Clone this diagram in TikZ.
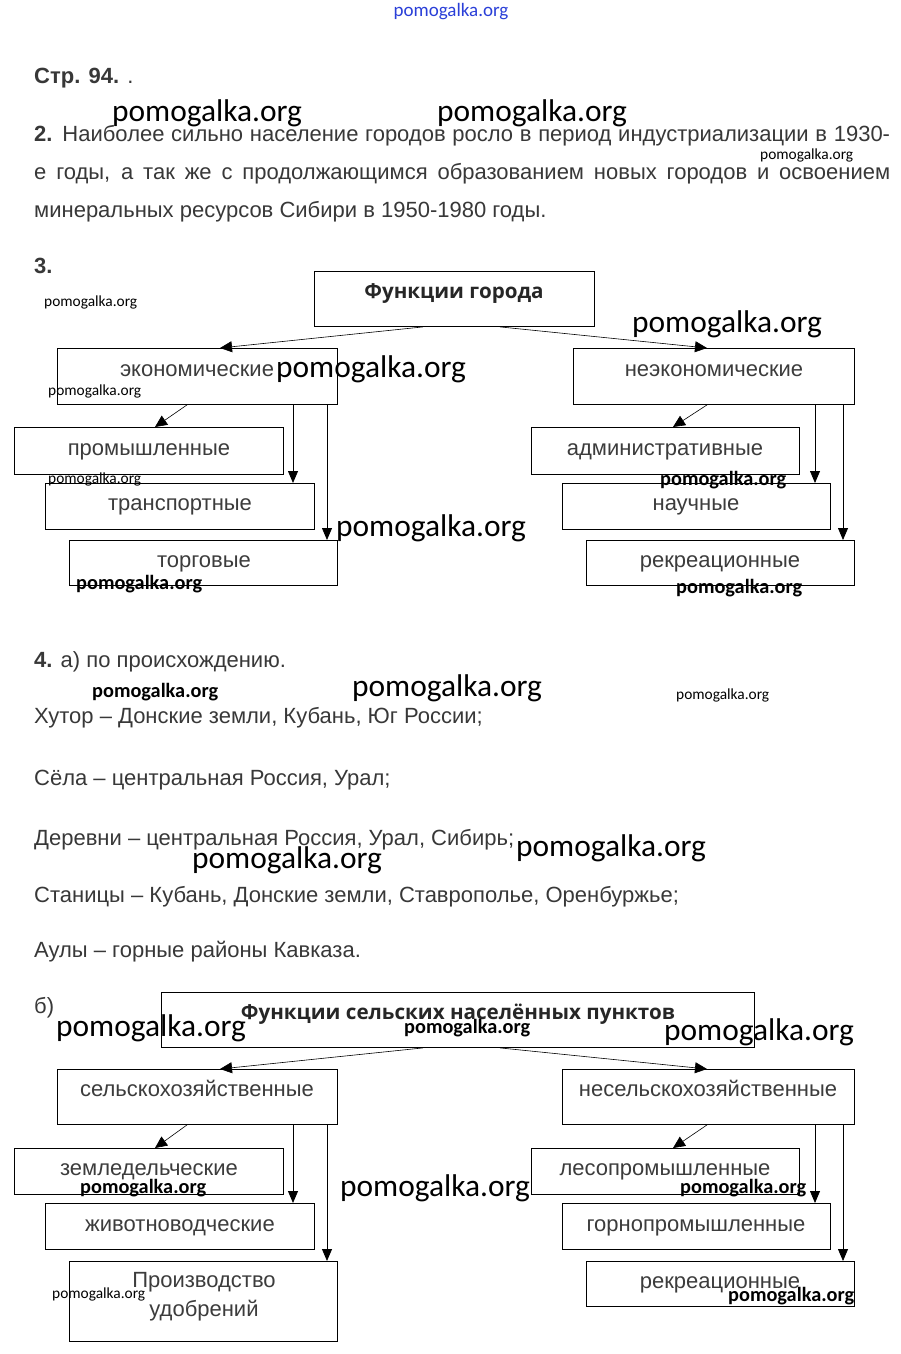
\documentclass[tikz,border=0pt]{standalone}
\usepackage{fontspec}
\setmainfont{Liberation Sans}
\newfontfamily\wmfont{Carlito}
\newfontfamily\ttlfont{Open Sans}
\usetikzlibrary{arrows.meta,calc}
\definecolor{bodyc}{HTML}{383838}
\definecolor{boxc}{HTML}{3C3C3C}
\definecolor{wmblue}{HTML}{2A3FD8}
\begin{document}
\begin{tikzpicture}[x=1pt,y=-1pt,
  body/.style={anchor=base west,inner sep=0pt,text=bodyc,font=\fontsize{22}{26}\selectfont},
  frame/.style={draw=black,line width=0.9pt,anchor=north west,inner sep=0pt},
  lbl/.style={anchor=base,inner sep=0pt,text=boxc,font=\fontsize{22}{29}\selectfont},
  ttl/.style={anchor=base,inner sep=0pt,text=black!85,font=\ttlfont\bfseries\fontsize{20.6}{24}\selectfont},
  wmL/.style={anchor=west,inner sep=0pt,font=\wmfont\fontsize{31.4}{32}\selectfont},
  wmS/.style={anchor=west,inner sep=0pt,font=\wmfont\fontsize{15.4}{16}\selectfont},
  wmB/.style={anchor=west,inner sep=0pt,font=\wmfont\bfseries\fontsize{20.3}{21}\selectfont},
  arr/.style={-{Triangle[length=12pt,width=10pt]},line width=0.8pt},
  thinarr/.style={-{Triangle[length=12pt,width=11pt]},line width=0.6pt}]
\useasboundingbox[fill=white] (0,0) rectangle (900,1354);

% header
\node[anchor=center,inner sep=0pt,text=wmblue,font=\wmfont\fontsize{19}{20}\selectfont] (wmtop) at (451,12) {pomogalka.org};
\node[body] (str) at (34,84) {\textbf{Стр. 94.} .};

% task 2
\node[body] (p1) at (34,141) {\makebox[856pt][s]{\textbf{2.} Наиболее сильно население городов росло в период индустриализации в 1930-}};
\node[body] (p2) at (34,179) {\makebox[856pt][s]{е годы, а так же с продолжающимся образованием новых городов и освоением}};
\node[body] (p3) at (34,217) {минеральных ресурсов Сибири в 1950-1980 годы.};

% task 3
\node[body] (n3) at (34,273) {\textbf{3.}};
\node[frame,minimum width=280pt,minimum height=55pt] (top1) at (314,271) {};
\node[frame,minimum width=280pt,minimum height=56pt] (eco) at (57,348) {};
\node[frame,minimum width=281pt,minimum height=56pt] (neco) at (573,348) {};
\node[frame,minimum width=269pt,minimum height=47pt] (prom) at (14,427) {};
\node[frame,minimum width=269pt,minimum height=46pt] (trans) at (45,483) {};
\node[frame,minimum width=268pt,minimum height=45pt] (torg) at (69,540) {};
\node[frame,minimum width=268pt,minimum height=47pt] (adm) at (531,427) {};
\node[frame,minimum width=268pt,minimum height=46pt] (nauch) at (562,483) {};
\node[frame,minimum width=268pt,minimum height=45pt] (rekr1) at (586,540) {};

\node[ttl] (ttop1) at (454,298) {Функции города};
\node[lbl] (teco) at (197,376) {экономические};
\node[lbl] (tneco) at (714,376) {неэкономические};
\node[lbl] (tprom) at (149,455) {промышленные};
\node[lbl] (ttrans) at (180,510) {транспортные};
\node[lbl] (ttorg) at (204,567) {торговые};
\node[lbl] (tadm) at (665,455) {административные};
\node[lbl] (tnauch) at (696,510) {научные};
\node[lbl] (trekr1) at (720,567) {рекреационные};

\coordinate (a1) at ($(top1.south west)+(109,0)$);
\coordinate (a2) at ($(top1.south west)+(186,0)$);
\coordinate (e1) at ($(eco.south west)+(130,0)$);
\coordinate (e2) at ($(eco.south west)+(236,0)$);
\coordinate (e3) at ($(eco.south west)+(270,0)$);
\coordinate (f1) at ($(neco.south west)+(134,0)$);
\coordinate (f2) at ($(neco.south west)+(242,0)$);
\coordinate (f3) at ($(neco.south west)+(270,0)$);
\draw[thinarr] (a1) -- ($(eco.north west)+(163,0)$);
\draw[thinarr] (a2) -- ($(neco.north west)+(134,0)$);
\draw[thinarr] (e1) -- ($(prom.north west)+(141,0)$);
\draw[arr] (e2) -- (e2 |- trans.north);
\draw[arr] (e3) -- (e3 |- torg.north);
\draw[thinarr] (f1) -- ($(adm.north west)+(142,0)$);
\draw[arr] (f2) -- (f2 |- nauch.north);
\draw[arr] (f3) -- (f3 |- rekr1.north);

% task 4
\node[body] (n4) at (34,667) {\textbf{4.} а) по происхождению.};
\node[body] (l1) at (34,723) {Хутор – Донские земли, Кубань, Юг России;};
\node[body] (l2) at (34,785) {Сёла – центральная Россия, Урал;};
\node[body] (l3) at (34,845) {Деревни – центральная Россия, Урал, Сибирь;};
\node[body] (l4) at (34,902) {Станицы – Кубань, Донские земли, Ставрополье, Оренбуржье;};
\node[body] (l5) at (34,957) {Аулы – горные районы Кавказа.};
\node[body] (nb) at (34,1013) {б)};

\node[frame,minimum width=593pt,minimum height=55pt] (top2) at (161,992) {};
\node[frame,minimum width=280pt,minimum height=55pt] (selx) at (57,1069) {};
\node[frame,minimum width=292pt,minimum height=55pt] (nesel) at (562,1069) {};
\node[frame,minimum width=269pt,minimum height=46pt] (zeml) at (14,1148) {};
\node[frame,minimum width=269pt,minimum height=46pt] (zhiv) at (45,1203) {};
\node[frame,minimum width=268pt,minimum height=80pt] (proiz) at (69,1261) {};
\node[frame,minimum width=268pt,minimum height=46pt] (les) at (531,1148) {};
\node[frame,minimum width=268pt,minimum height=46pt] (gorn) at (562,1203) {};
\node[frame,minimum width=268pt,minimum height=45pt] (rekr2) at (586,1261) {};

\node[ttl] (ttop2) at (458,1019) {Функции сельских населённых пунктов};
\node[lbl] (tselx) at (197,1096) {сельскохозяйственные};
\node[lbl] (tnesel) at (708,1096) {несельскохозяйственные};
\node[lbl] (tzeml) at (149,1175) {земледельческие};
\node[lbl] (tzhiv) at (180,1231) {животноводческие};
\node[lbl,anchor=center,align=center] (tproiz) at (204,1297) {Производство\\удобрений};
\node[lbl] (tles) at (665,1175) {лесопромышленные};
\node[lbl] (tgorn) at (696,1231) {горнопромышленные};
\node[lbl] (trekr2) at (720,1288) {рекреационные};

\coordinate (b1) at ($(top2.south west)+(262,0)$);
\coordinate (b2) at ($(top2.south west)+(339,0)$);
\coordinate (g1) at ($(selx.south west)+(130,0)$);
\coordinate (g2) at ($(selx.south west)+(236,0)$);
\coordinate (g3) at ($(selx.south west)+(270,0)$);
\coordinate (h1) at ($(nesel.south west)+(145,0)$);
\coordinate (h2) at ($(nesel.south west)+(253,0)$);
\coordinate (h3) at ($(nesel.south west)+(281,0)$);
\draw[thinarr] (b1) -- ($(selx.north west)+(163,0)$);
\draw[thinarr] (b2) -- ($(nesel.north west)+(145,0)$);
\draw[thinarr] (g1) -- ($(zeml.north west)+(141,0)$);
\draw[arr] (g2) -- (g2 |- zhiv.north);
\draw[arr] (g3) -- (g3 |- proiz.north);
\draw[thinarr] (h1) -- ($(les.north west)+(142,0)$);
\draw[arr] (h2) -- (h2 |- gorn.north);
\draw[arr] (h3) -- (h3 |- rekr2.north);

% watermarks
\node[wmL] (w1) at (112,113) {pomogalka.org};
\node[wmL] (w2) at (437,113) {pomogalka.org};
\node[wmS] (w3) at (760,155) {pomogalka.org};
\node[wmS] (w4) at (44,302) {pomogalka.org};
\node[wmL] (w5) at (632,324) {pomogalka.org};
\node[wmL] (w6) at (276,369) {pomogalka.org};
\node[wmS] (w7) at (48,391) {pomogalka.org};
\node[wmS] (w8) at (48,479) {pomogalka.org};
\node[wmB] (w9) at (660,480) {pomogalka.org};
\node[wmL] (w10) at (336,528) {pomogalka.org};
\node[wmB] (w11) at (76,584) {pomogalka.org};
\node[wmB] (w12) at (676,588) {pomogalka.org};
\node[wmB] (w13) at (92,692) {pomogalka.org};
\node[wmL] (w14) at (352,688) {pomogalka.org};
\node[wmS] (w15) at (676,695) {pomogalka.org};
\node[wmL] (w16) at (516,848) {pomogalka.org};
\node[wmL] (w17) at (192,860) {pomogalka.org};
\node[wmL] (w18) at (56,1028) {pomogalka.org};
\node[wmB] (w19) at (404,1028) {pomogalka.org};
\node[wmL] (w20) at (664,1032) {pomogalka.org};
\node[wmL] (w21) at (340,1188) {pomogalka.org};
\node[wmB] (w22) at (80,1188) {pomogalka.org};
\node[wmB] (w23) at (680,1188) {pomogalka.org};
\node[wmS] (w24) at (52,1294) {pomogalka.org};
\node[wmB] (w25) at (728,1296) {pomogalka.org};
\end{tikzpicture}
\end{document}
